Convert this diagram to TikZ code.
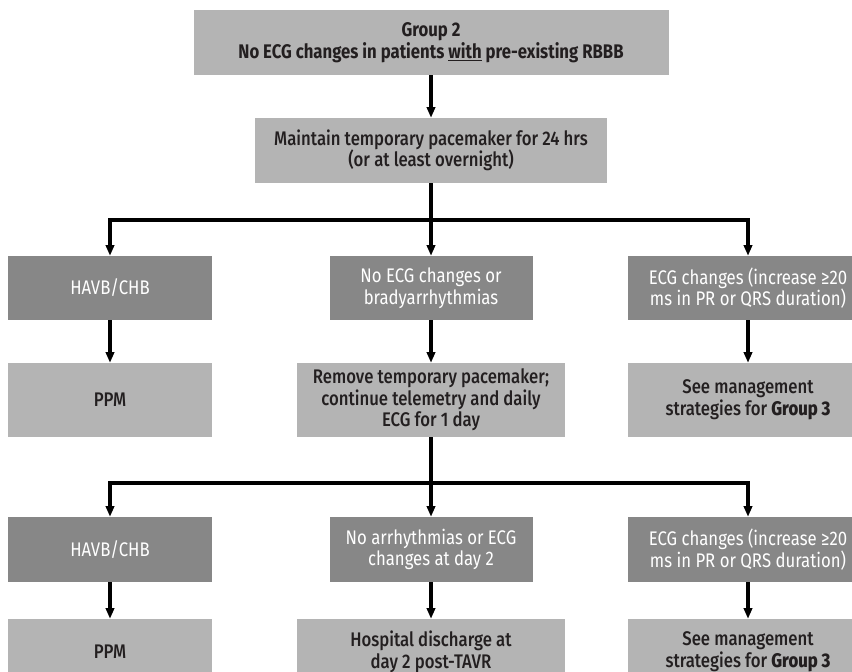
\documentclass[tikz,border=0pt]{standalone}
\usepackage{fontspec}
\setmainfont{Fira Sans}[FakeStretch=0.85]
\newfontfamily\medfont{Fira Sans Medium}[FakeStretch=0.85]
\usepackage{tikz}
\usetikzlibrary{arrows.meta,positioning}
\definecolor{boxlight}{HTML}{B4B4B4}
\definecolor{boxdark}{HTML}{878787}
\definecolor{inkdark}{HTML}{231F20}
\newcommand{\boxfont}{\fontsize{16.8}{18.4}\selectfont}

\begin{document}
\begin{tikzpicture}[x=0.3mm,y=-0.3mm,
  lightbox/.style={fill=boxlight, text=inkdark, align=center, inner sep=2pt, font=\medfont\boxfont},
  darkbox/.style={fill=boxdark, text=white, align=center, inner sep=2pt, font=\boxfont},
  flow/.style={line width=2.8pt, -{Triangle[length=3.2mm,width=2.5mm]}},
  trunk/.style={line width=2.8pt}]
\useasboundingbox (0,0) rectangle (852,672);
\clip (0,0) rectangle (852,672);

% first step
\node[lightbox, font=\bfseries\boxfont, minimum width=142.5mm, minimum height=19.5mm] (grp) at (431,42.5)
  {Group 2\\No ECG changes in patients \underline{with} pre-existing RBBB};
\node[lightbox, minimum width=105.6mm, minimum height=19.5mm] (keep) at (431,150.5)
  {Maintain temporary pacemaker for 24 hrs\\(or at least overnight)};

% day 1
\node[darkbox, minimum width=61.2mm, minimum height=19.2mm] (block1) at (110,288) {HAVB/CHB};
\node[darkbox, minimum width=60.9mm, minimum height=19.2mm] (calm1) at (431,288) {No ECG changes or\\bradyarrhythmias};
\node[darkbox, minimum width=72mm, minimum height=19.2mm] (shift1) at (748,288) {ECG changes (increase ≥20\\ms in PR or QRS duration)};
\node[lightbox, minimum width=61.2mm, minimum height=22.2mm] (ppm1) at (110,400) {PPM};
\node[lightbox, minimum width=80.4mm, minimum height=22.2mm] (remove) at (431,400)
  {Remove temporary pacemaker;\\continue telemetry and daily\\ECG for 1 day};
\node[lightbox, minimum width=72mm, minimum height=22.2mm] (see1) at (748,400) {See management\\strategies for \textbf{Group 3}};

% day 2
\node[darkbox, minimum width=61.2mm, minimum height=19.5mm] (block2) at (110,549.5) {HAVB/CHB};
\node[darkbox, minimum width=60.9mm, minimum height=19.5mm] (calm2) at (431,549.5) {No arrhythmias or ECG\\changes at day 2};
\node[darkbox, minimum width=72mm, minimum height=19.5mm] (shift2) at (748,549.5) {ECG changes (increase ≥20\\ms in PR or QRS duration)};
\node[lightbox, minimum width=61.2mm, minimum height=19.8mm] (ppm2) at (110,652) {PPM};
\node[lightbox, minimum width=80.4mm, minimum height=19.8mm] (home) at (431,652) {Hospital discharge at\\day 2 post-TAVR};
\node[lightbox, minimum width=72mm, minimum height=19.8mm] (see2) at (748,652) {See management\\strategies for \textbf{Group 3}};

\coordinate (split1) at (431,220);
\coordinate (split2) at (431,483);

\draw[flow] (grp) -- (keep);
\draw[trunk] (keep) -- (split1);
\draw[flow] (split1) -| (block1);
\draw[flow] (split1) -- (calm1);
\draw[flow] (split1) -| (shift1);
\draw[flow] (block1) -- (ppm1);
\draw[flow] (calm1) -- (remove);
\draw[flow] (shift1) -- (see1);

\draw[trunk] (remove) -- (split2);
\draw[flow] (split2) -| (block2);
\draw[flow] (split2) -- (calm2);
\draw[flow] (split2) -| (shift2);
\draw[flow] (block2) -- (ppm2);
\draw[flow] (calm2) -- (home);
\draw[flow] (shift2) -- (see2);
\end{tikzpicture}
\end{document}
